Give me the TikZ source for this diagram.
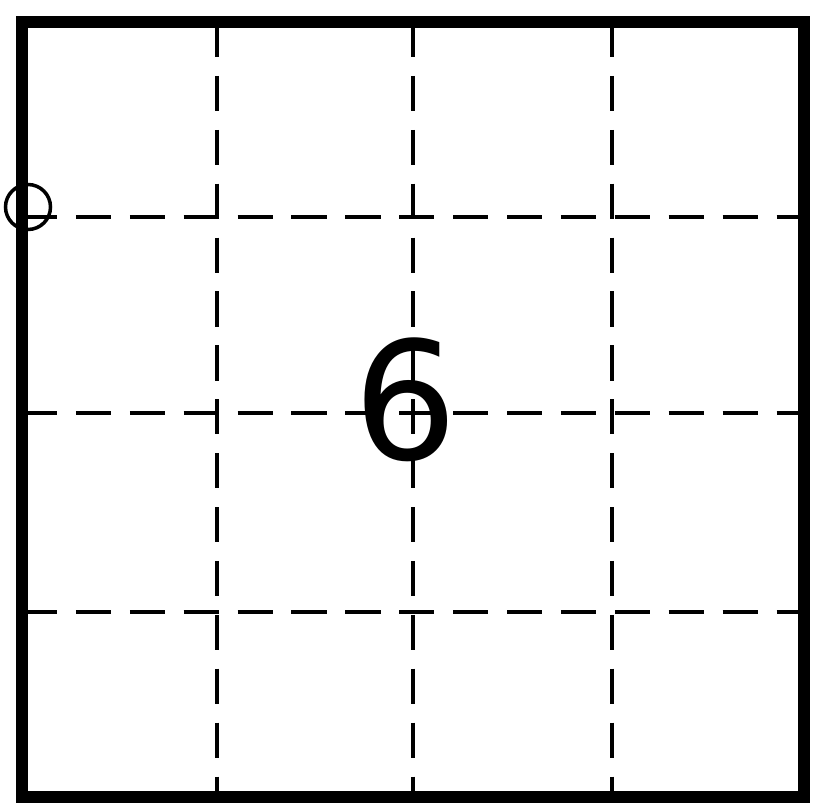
\documentclass[tikz,border=0pt]{standalone}
\usepackage{fontspec}
\setmainfont{DejaVu Sans}
\usepackage{tikz}

\begin{document}
\begin{tikzpicture}[x=0.03cm,y=-0.03cm]
        \useasboundingbox (0,0) rectangle (817,806);
        % dashed grid
        \foreach \t in {217,413,612} {
          \draw[line width=4pt, dash pattern=on 30 off 16] (\t,22) -- (\t,797);
          \draw[line width=4pt, dash pattern=on 30 off 16] (22,\t) -- (804,\t);
        }
        \draw[line width=3.8mm] (22,22) rectangle (804,797);
        \node[draw, circle, line width=3pt, minimum size=1.35cm, inner sep=0pt] (ring) at (28,207) {};
        \node[font=\fontsize{140}{140}\selectfont] (six) at (406,400) {6};
      \end{tikzpicture}
\end{document}
